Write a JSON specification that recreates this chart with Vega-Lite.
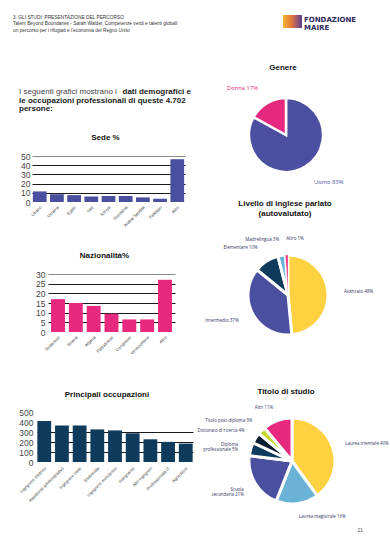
{
"$schema": "https://vega.github.io/schema/vega-lite/v6.json",
"padding": 0,
"background": "white",
"bounds": "flush",
"spacing": 0,
"resolve": {"scale": {"color": "independent", "theta": "independent"}},
"config": {
  "view": {"stroke": null},
  "concat": {"spacing": 0},
  "axis": {"labelFont": "Liberation Sans"},
  "title": {"font": "Liberation Sans", "fontSize": 8, "fontWeight": "bold", "color": "#111111"}
},
"hconcat": [
  {
    "bounds": "flush",
    "spacing": 0,
    "vconcat": [
      {
        "width": 200, "height": 12,
        "data": {"values": [{}]},
        "mark": {"type": "rect", "opacity": 0},
        "title": {
          "text": ["3. GLI STUDI: PRESENTAZIONE DEL PERCORSO", "Talent Beyond Boundaries - Sarah Walder, Competenze verdi e talenti globali:", "un percorso per i rifugiati e l'economia del Regno Unito"],
          "orient": "bottom", "anchor": "start", "frame": "group", "dx": 13, "offset": 2.5,
          "baseline": "top", "fontSize": 4.8, "fontWeight": "normal", "lineHeight": 6.5, "color": "#333333"
        }
      },
      {
        "width": 200, "height": 144,
        "data": {"values": [
          {"line": 1, "seg": "a", "text": "I seguenti grafici mostrano i"},
          {"line": 1, "seg": "b", "text": "dati demografici e"},
          {"line": 2, "seg": "a", "text": "le occupazioni professionali di queste 4.702"},
          {"line": 3, "seg": "a", "text": "persone:"}
        ]},
        "encoding": {
          "y": {"field": "line", "type": "ordinal", "scale": {"type": "point", "padding": 0, "range": [80.3, 97.3]}, "axis": null},
          "x": {"field": "seg", "type": "nominal", "scale": {"type": "point", "padding": 0, "domain": ["a", "b"], "range": [19, 191]}, "axis": null},
          "text": {"field": "text"}
        },
        "layer": [
          {"transform": [{"filter": "datum.line === 1 && datum.seg === 'a'"}],
           "mark": {"type": "text", "align": "left", "baseline": "middle", "font": "Liberation Sans", "fontSize": 8, "fill": "#444444"}},
          {"transform": [{"filter": "datum.line > 1"}],
           "mark": {"type": "text", "align": "left", "baseline": "middle", "font": "Liberation Sans", "fontSize": 8, "fontWeight": "bold", "fill": "#1a1a1a"}},
          {"transform": [{"filter": "datum.seg === 'b'"}],
           "mark": {"type": "text", "align": "right", "baseline": "middle", "font": "Liberation Sans", "fontSize": 8, "fontWeight": "bold", "fill": "#1a1a1a"}}
        ]
      },
      {
        "bounds": "flush", "spacing": 0,
        "hconcat": [
          {"width": 32, "height": 46, "data": {"values": [{}]}, "mark": {"type": "rect", "opacity": 0}},
          {
            "width": 153, "height": 46,
            "title": {"text": "Sede %", "offset": 10, "dx": -3},
            "data": {"values": [
              {"sede": "Libano", "pct": 11.5},
              {"sede": "Ucraina", "pct": 8.5},
              {"sede": "Egitto", "pct": 7.5},
              {"sede": "Iraq", "pct": 6},
              {"sede": "Kenya", "pct": 6.5},
              {"sede": "Giordania", "pct": 6.5},
              {"sede": "Arabia Saudita", "pct": 5},
              {"sede": "Pakistan", "pct": 3.5},
              {"sede": "Altro", "pct": 46.5}
            ]},
            "mark": {"type": "bar", "color": "#4B4F9F"},
            "encoding": {
              "x": {"field": "sede", "type": "nominal", "sort": null, "scale": {"paddingInner": 0.2, "paddingOuter": 0.05},
                    "axis": {"title": null, "labelAngle": -45, "labelFontSize": 4.2, "ticks": false, "domain": false, "labelPadding": 3, "labelColor": "#333333"}},
              "y": {"field": "pct", "type": "quantitative", "scale": {"domain": [0, 50]},
                    "axis": {"title": null, "values": [0, 10, 20, 30, 40, 50], "grid": true, "gridWidth": 1,
                             "gridColor": {"condition": {"test": "datum.value === 50", "value": "#8a8a8a"}, "value": "#1a1a1a"},
                             "gridOpacity": {"condition": {"test": "datum.value === 0", "value": 0}, "value": 1},
                             "domain": false, "ticks": false, "labelFontSize": 8.5, "labelPadding": 2, "labelColor": "#444444"}}
            }
          }
        ]
      },
      {"width": 1, "height": 118, "data": {"values": [{}]}, "mark": {"type": "rect", "opacity": 0}},
      {
        "bounds": "flush", "spacing": 0,
        "hconcat": [
          {"width": 48, "height": 58, "data": {"values": [{}]}, "mark": {"type": "rect", "opacity": 0}},
          {
            "width": 127, "height": 58,
            "title": {"text": "Nazionalità%", "offset": 10, "dx": -7},
            "data": {"values": [
              {"naz": "Sudanese", "pct": 17},
              {"naz": "Siriana", "pct": 15},
              {"naz": "Afgana", "pct": 13.5},
              {"naz": "Palestinese", "pct": 9.5},
              {"naz": "Congolese", "pct": 6.5},
              {"naz": "Venezuelana", "pct": 6.5},
              {"naz": "Altro", "pct": 27}
            ]},
            "mark": {"type": "bar", "color": "#E6287E"},
            "encoding": {
              "x": {"field": "naz", "type": "nominal", "sort": null, "scale": {"paddingInner": 0.22, "paddingOuter": 0.17},
                    "axis": {"title": null, "labelAngle": -45, "labelFontSize": 4.2, "ticks": false, "domain": false, "labelPadding": 3, "labelColor": "#333333"}},
              "y": {"field": "pct", "type": "quantitative", "scale": {"domain": [0, 30]},
                    "axis": {"title": null, "values": [0, 5, 10, 15, 20, 25, 30], "grid": true, "gridWidth": 1,
                             "gridColor": {"condition": {"test": "datum.value === 30", "value": "#8a8a8a"}, "value": "#1a1a1a"},
                             "gridOpacity": {"condition": {"test": "datum.value === 0", "value": 0}, "value": 1},
                             "domain": false, "ticks": false, "labelFontSize": 8.5, "labelPadding": 3, "labelColor": "#444444"}}
            }
          }
        ]
      },
      {"width": 1, "height": 138, "data": {"values": [{}]}, "mark": {"type": "rect", "opacity": 0}},
      {
        "bounds": "flush", "spacing": 0,
        "hconcat": [
          {"width": 37, "height": 50, "data": {"values": [{}]}, "mark": {"type": "rect", "opacity": 0}},
          {
            "width": 156, "height": 50,
            "title": {"text": "Principali occupazioni", "offset": 9, "dx": -8},
            "data": {"values": [
              {"occ": "Ingegnere elettrico", "n": 410},
              {"occ": "Assistente amministrativo", "n": 365},
              {"occ": "Ingegnere civile", "n": 365},
              {"occ": "Elettricista", "n": 326},
              {"occ": "Ingegnere meccanico", "n": 316},
              {"occ": "Insegnante", "n": 287},
              {"occ": "Altri ingegneri", "n": 227},
              {"occ": "Professionista IT", "n": 201},
              {"occ": "Agricoltore", "n": 184}
            ]},
            "mark": {"type": "bar", "color": "#0E3A5C"},
            "encoding": {
              "x": {"field": "occ", "type": "nominal", "sort": null, "scale": {"paddingInner": 0.22, "paddingOuter": 0.02},
                    "axis": {"title": null, "labelAngle": -45, "labelFontSize": 4.2, "ticks": false, "domain": false, "labelPadding": 4, "labelColor": "#333333"}},
              "y": {"field": "n", "type": "quantitative", "scale": {"domain": [0, 500]},
                    "axis": {"title": null, "values": [0, 100, 200, 300, 400, 500], "grid": true, "gridWidth": 1, "gridColor": "#1a1a1a",
                             "gridOpacity": {"condition": {"test": "datum.value === 0 || datum.value >= 400", "value": 0}, "value": 1},
                             "domain": false, "ticks": false, "labelFontSize": 8.5, "labelPadding": 4, "labelColor": "#444444"}}
            }
          }
        ]
      }
    ]
  },
  {"width": 200, "height": 1, "data": {"values": [{}]}, "mark": {"type": "rect", "opacity": 0}},
  {
    "bounds": "flush",
    "spacing": 0,
    "resolve": {"scale": {"color": "independent", "theta": "independent"}},
    "vconcat": [
      {
        "width": 190, "height": 15,
        "data": {"values": [{}]},
        "mark": {"type": "rect", "opacity": 0},
        "title": {
          "text": ["FONDAZIONE", "MAIRE"], "orient": "bottom", "anchor": "start", "frame": "group",
          "dx": 104, "offset": 0.5, "baseline": "top", "font": "DejaVu Sans", "fontSize": 7,
          "fontWeight": "bold", "lineHeight": 8, "color": "#2D2A5E"
        }
      },
      {
        "bounds": "flush", "spacing": 0,
        "hconcat": [
          {"width": 83, "height": 13, "data": {"values": [{}]}, "mark": {"type": "rect", "opacity": 0}},
          {
            "width": 19, "height": 13,
            "data": {"values": [{}]},
            "mark": {"type": "rect", "color": {"gradient": "linear", "x1": 0, "x2": 1, "y1": 0, "y2": 0,
              "stops": [{"offset": 0, "color": "#F6B332"}, {"offset": 0.45, "color": "#E2763C"}, {"offset": 1, "color": "#5D3C98"}]}}
          }
        ]
      },
      {"width": 1, "height": 60, "data": {"values": [{}]}, "mark": {"type": "rect", "opacity": 0}},
      {
        "width": 172, "height": 120,
        "title": {"text": "Genere", "offset": 3, "dx": -3},
        "data": {"values": [
          {"cat": "Uomo", "value": 83, "k": 1, "label": "Uomo 83%"},
          {"cat": "Donna", "value": 17, "k": 2, "label": "Donna 17%"}
        ]},
        "encoding": {
          "theta": {"field": "value", "type": "quantitative", "stack": true},
          "order": {"field": "k", "type": "quantitative"},
          "color": {"field": "cat", "type": "nominal", "scale": {"domain": ["Uomo", "Donna"], "range": ["#4B4F9F", "#E6287E"]}, "legend": null}
        },
        "layer": [
          {"mark": {"type": "arc", "outerRadius": 37, "stroke": "#ffffff", "strokeWidth": 2.5}},
          {"mark": {"type": "text", "radius": 55, "font": "Open Sans", "fontSize": 5.8, "baseline": "middle",
                    "align": {"expr": "(datum.value_start + datum.value_end) / 2 > 50 && (datum.value_start + datum.value_end) / 2 < 98 ? 'right' : 'left'"}},
           "encoding": {"text": {"field": "label"}}}
        ]
      },
      {"width": 1, "height": 25, "data": {"values": [{}]}, "mark": {"type": "rect", "opacity": 0}},
      {
        "width": 176, "height": 150,
        "title": {"text": ["Livello di inglese parlato", "(autovalutato)"], "offset": 2, "dx": -3, "lineHeight": 10},
        "data": {"values": [
          {"cat": "Avanzato", "value": 48, "k": 1, "label": "Avanzato 48%"},
          {"cat": "Intermedio", "value": 37, "k": 2, "label": "Intermedio 37%"},
          {"cat": "Elementare", "value": 10, "k": 3, "label": "Elementare 10%"},
          {"cat": "Madrelingua", "value": 3, "k": 4, "label": "Madrelingua 3%"},
          {"cat": "Altro", "value": 1, "k": 5, "label": "Altro 1%"}
        ]},
        "encoding": {
          "theta": {"field": "value", "type": "quantitative", "stack": true},
          "order": {"field": "k", "type": "quantitative"},
          "color": {"field": "cat", "type": "nominal", "scale": {"domain": ["Avanzato", "Intermedio", "Elementare", "Madrelingua", "Altro"], "range": ["#FDD13F", "#4B4F9F", "#0E3A5C", "#6BB3D6", "#E6287E"]}, "legend": null}
        },
        "layer": [
          {"mark": {"type": "arc", "outerRadius": 40, "stroke": "#ffffff"},
           "encoding": {"strokeWidth": {"condition": {"test": "datum.value < 2", "value": 0.4}, "value": 3}}},
          {"mark": {"type": "text", "radius": 56, "font": "Open Sans", "fontSize": 4.5, "baseline": "middle",
                    "align": {"expr": "(datum.value_start + datum.value_end) / 2 > 50 && (datum.value_start + datum.value_end) / 2 < 98 ? 'right' : 'left'"}},
           "encoding": {"text": {"field": "label"}, "color": {"value": "#33345F"}}}
        ]
      },
      {"width": 1, "height": 30, "data": {"values": [{}]}, "mark": {"type": "rect", "opacity": 0}},
      {
        "width": 184, "height": 122,
        "title": {"text": "Titolo di studio", "offset": 4, "dx": -6},
        "data": {"values": [
          {"cat": "Laurea triennale", "value": 40, "k": 1, "label": "Laurea triennale 40%"},
          {"cat": "Laurea magistrale", "value": 16, "k": 2, "label": "Laurea magistrale 16%"},
          {"cat": "Scuola secondaria", "value": 21, "k": 3, "label": ["Scuola", "secondaria 21%"]},
          {"cat": "Diploma professionale", "value": 5, "k": 4, "label": ["Diploma", "professionale 5%"]},
          {"cat": "Dottorato di ricerca", "value": 4, "k": 5, "label": "Dottorato di ricerca 4%"},
          {"cat": "Titolo post-diploma", "value": 3, "k": 6, "label": "Titolo post-diploma 3%"},
          {"cat": "Altri", "value": 11, "k": 7, "label": "Altri 11%"}
        ]},
        "encoding": {
          "theta": {"field": "value", "type": "quantitative", "stack": true},
          "order": {"field": "k", "type": "quantitative"},
          "color": {"field": "cat", "type": "nominal", "scale": {"domain": ["Laurea triennale", "Laurea magistrale", "Scuola secondaria", "Diploma professionale", "Dottorato di ricerca", "Titolo post-diploma", "Altri"], "range": ["#FDD13F", "#6BB3D6", "#4B4F9F", "#0E3A5C", "#0B1D30", "#C6D92F", "#E6287E"]}, "legend": null}
        },
        "layer": [
          {"mark": {"type": "arc", "outerRadius": 43, "stroke": "#ffffff", "strokeWidth": 3}},
          {"mark": {"type": "text", "radius": 56, "font": "Open Sans", "fontSize": 4.4, "baseline": "middle", "lineHeight": 5,
                    "align": {"expr": "(datum.value_start + datum.value_end) / 2 > 50 && (datum.value_start + datum.value_end) / 2 < 98 ? 'right' : 'left'"}},
           "encoding": {"text": {"field": "label"}, "color": {"value": "#33345F"}}}
        ]
      },
      {
        "width": 190, "height": 3,
        "data": {"values": [{}]},
        "mark": {"type": "rect", "opacity": 0},
        "title": {"text": "21", "orient": "bottom", "anchor": "end", "frame": "group", "dx": -27, "offset": 3,
                  "baseline": "top", "fontSize": 5, "fontWeight": "normal", "color": "#555555"}
      }
    ]
  }
]
}
